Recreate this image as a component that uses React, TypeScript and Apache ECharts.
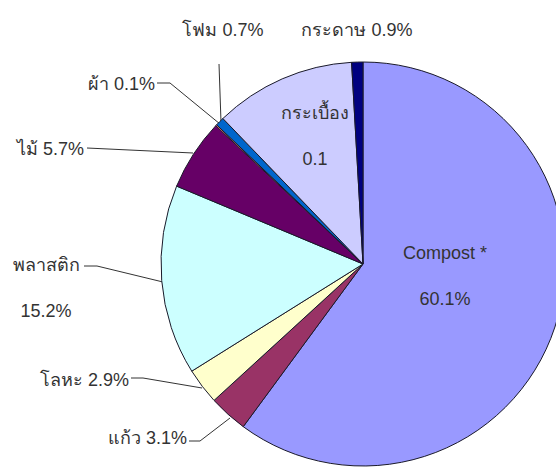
import { useEffect, useRef } from "react";
import * as echarts from "echarts";

// Waste composition by material (percent of total)
const categories = ["Compost *", "แก้ว", "โลหะ", "พลาสติก", "ไม้", "ผ้า", "โฟม", "กระเบื้อง", "กระดาษ"];
const shares = [60.1, 3.1, 2.9, 15.2, 5.7, 0.1, 0.7, 11.3, 0.9];
const sliceColors = ["#9999FF", "#993366", "#FFFFCC", "#CCFFFF", "#660066", "#FF8080", "#0066CC", "#CCCCFF", "#000080"];
// figure printed on the tile slice in the source table
const printedFigures: Record<string, string> = { "กระเบื้อง": "0.1" };
// labels set on two lines (name above, figure below)
const stackedNames = ["Compost *", "พลาสติก", "กระเบื้อง"];
// slices whose label sits without a leader line
const unlinedNames = ["Compost *", "กระเบื้อง", "กระดาษ"];

type Placement = { x: number; y: number; align: "left" | "center" | "right"; line?: number[][] };

// label anchors and leader-line routes, in the order of the slices
const placements: Placement[] = [
  { x: 445, y: 276, align: "center" },
  { x: 187, y: 438, align: "right", line: [[189, 441], [200, 441], [230, 418]] },
  { x: 129, y: 380, align: "right", line: [[131, 378], [143, 378], [202, 388]] },
  { x: 46, y: 288, align: "center", line: [[84, 266], [97, 266], [163, 282]] },
  { x: 84, y: 149, align: "right", line: [[87, 148], [193, 153]] },
  { x: 155, y: 84, align: "right", line: [[157, 83], [170, 83], [220, 124]] },
  { x: 223, y: 30, align: "center", line: [[219, 64], [221, 122]] },
  { x: 315, y: 136, align: "center" },
  { x: 357, y: 30, align: "center" },
];

export default function App() {
  const ref = useRef<HTMLDivElement>(null);

  useEffect(() => {
    if (!ref.current) return;
    const chart = echarts.init(ref.current, undefined, { renderer: "svg" });

    const data = categories.map((name, i) => ({
      name,
      value: shares[i],
      itemStyle: { color: sliceColors[i] },
      labelLine: { show: !unlinedNames.includes(name) },
    }));

    chart.setOption({
      animation: false,
      backgroundColor: "#ffffff",
      series: [
        {
          type: "pie",
          silent: true,
          center: [363, 264],
          radius: 202,
          startAngle: 90,
          clockwise: true,
          avoidLabelOverlap: false,
          itemStyle: { borderColor: "#1a1a2a", borderWidth: 1 },
          emphasis: { disabled: true },
          label: {
            show: true,
            position: "outside",
            color: "#333333",
            fontSize: 18,
            fontFamily: "'Liberation Sans', Arial, 'DejaVu Sans', sans-serif",
            lineHeight: 23,
            formatter: (p: any) => {
              const fig = printedFigures[p.name] ?? `${p.value}%`;
              return stackedNames.includes(p.name) ? `${p.name}\n\n${fig}` : `${p.name} ${fig}`;
            },
          },
          labelLine: {
            show: true,
            lineStyle: { color: "#333333", width: 1 },
          },
          labelLayout: (params: any) => {
            const p = placements[params.dataIndex];
            const out: any = { x: p.x, y: p.y, align: p.align, verticalAlign: "middle" };
            if (p.line) out.labelLinePoints = p.line;
            return out;
          },
          data,
        },
      ],
    });

    return () => chart.dispose();
  }, []);

  return (
    <div
      ref={ref}
      style={{ position: "absolute", left: 0, top: 0, width: 556, height: 467, background: "#fff" }}
    />
  );
}
